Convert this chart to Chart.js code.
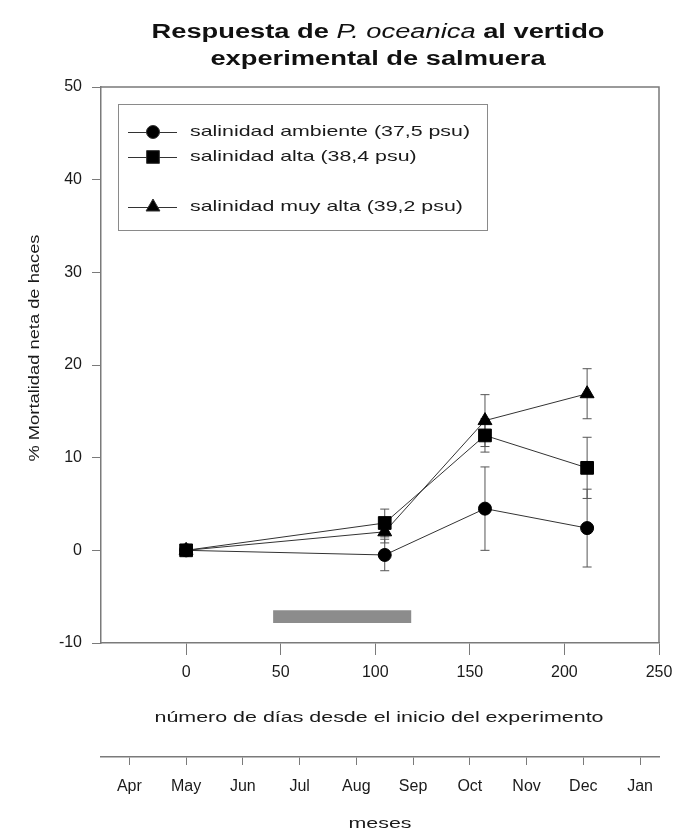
<!DOCTYPE html>
<html><head><meta charset="utf-8">
<script src="https://cdn.jsdelivr.net/npm/chart.js@4"></script>
<style>html,body{margin:0;padding:0;background:#fff}#wrap{width:677px;height:834px;position:relative}</style>
</head><body><div id="wrap"><canvas id="c"></canvas></div>
<script>
// ---- data ----
const days = [0, 105, 158, 212];
const seriesLabels = ['salinidad ambiente (37,5 psu)', 'salinidad alta (38,4 psu)', 'salinidad muy alta (39,2 psu)'];
const ambiente = [0, -0.5, 4.5, 2.4];
const ambienteErr = [0, 1.7, 4.5, 4.2];
const alta = [0, 2.95, 12.4, 8.9];
const altaErr = [0, 1.5, 1.8, 3.3];
const muyAlta = [0, 2.0, 14.0, 16.9];
const muyAltaErr = [0, 1.2, 2.8, 2.7];
const dischargeDays = [46, 119];
const dischargeLevel = -7.15;
const dayTicks = [0, 50, 100, 150, 200, 250];
const yTicks = [-10, 0, 10, 20, 30, 40, 50];
const monthTicks = [-30, 0, 30, 60, 90, 120, 150, 180, 210, 240];
const monthLabels = ['Apr', 'May', 'Jun', 'Jul', 'Aug', 'Sep', 'Oct', 'Nov', 'Dec', 'Jan'];
const titleLine1 = ['Respuesta de ', 'P. oceanica', ' al vertido'];
const titleLine2 = 'experimental de salmuera';
const xTitle = 'número de días desde el inicio del experimento';
const x2Title = 'meses';
const yTitle = '% Mortalidad neta de haces';

const FONT = "'Liberation Sans', Arial, Helvetica, sans-serif";
const AXIS = '#7a7a7a';
const TEXT = '#1a1a1a';

function stretchedText(ctx, text, font, cx, cy, targetW, align) {
  ctx.save();
  ctx.font = font;
  const w = ctx.measureText(text).width;
  const sx = targetW / w;
  ctx.translate(cx, cy);
  ctx.scale(sx, 1);
  ctx.textAlign = align || 'center';
  ctx.fillText(text, 0, 0);
  ctx.restore();
}

const titlePlugin = {
  id: 'figTitle',
  afterDraw(chart) {
    const ctx = chart.ctx;
    const fonts = ['bold 20px ' + FONT, 'italic 20px ' + FONT, 'bold 20px ' + FONT];
    ctx.save();
    ctx.fillStyle = '#111';
    ctx.textBaseline = 'alphabetic';
    const widths = titleLine1.map((t, i) => { ctx.font = fonts[i]; return ctx.measureText(t).width; });
    const w1 = widths.reduce((a, b) => a + b, 0);
    const sx = 453 / w1;
    ctx.translate(378, 0);
    ctx.scale(sx, 1);
    let x = -w1 / 2;
    ctx.textAlign = 'left';
    titleLine1.forEach((t, i) => { ctx.font = fonts[i]; ctx.fillText(t, x, 38); x += widths[i]; });
    ctx.font = fonts[0];
    ctx.textAlign = 'center';
    ctx.fillText(titleLine2, 0, 65);
    ctx.restore();
  }
};

const axisTitlePlugin = {
  id: 'axisTitles',
  afterDraw(chart) {
    const ctx = chart.ctx;
    ctx.save();
    ctx.fillStyle = TEXT;
    ctx.textBaseline = 'middle';
    stretchedText(ctx, xTitle, '15px ' + FONT, 379, 718, 449);
    stretchedText(ctx, x2Title, '15px ' + FONT, 380, 824, 63);
    ctx.save();
    ctx.translate(35, 348);
    ctx.rotate(-Math.PI / 2);
    stretchedText(ctx, yTitle, '15px ' + FONT, 0, 0, 227);
    ctx.restore();
    ctx.restore();
  }
};

const framePlugin = {
  id: 'frame',
  afterDraw(chart) {
    const ctx = chart.ctx, a = chart.chartArea;
    ctx.save();
    ctx.strokeStyle = AXIS;
    ctx.lineWidth = 1.5;
    ctx.beginPath();
    ctx.moveTo(a.left, a.top); ctx.lineTo(a.right, a.top); ctx.lineTo(a.right, a.bottom);
    ctx.stroke();
    ctx.restore();
  }
};

const errorBarPlugin = {
  id: 'errorBars',
  beforeDatasetsDraw(chart) {
    const ctx = chart.ctx;
    const xs = chart.scales.x, ys = chart.scales.y;
    ctx.save();
    ctx.strokeStyle = '#555';
    ctx.lineWidth = 1;
    chart.data.datasets.forEach(ds => {
      if (!ds.errors) return;
      ds.data.forEach((p, i) => {
        const e = ds.errors[i];
        if (!e) return;
        const x = xs.getPixelForValue(p.x);
        const y1 = ys.getPixelForValue(p.y + e);
        const y2 = ys.getPixelForValue(p.y - e);
        ctx.beginPath();
        ctx.moveTo(x, y1); ctx.lineTo(x, y2);
        ctx.moveTo(x - 4.5, y1); ctx.lineTo(x + 4.5, y1);
        ctx.moveTo(x - 4.5, y2); ctx.lineTo(x + 4.5, y2);
        ctx.stroke();
      });
    });
    ctx.restore();
  }
};

const legendPlugin = {
  id: 'boxLegend',
  afterDraw(chart) {
    const ctx = chart.ctx;
    const rows = [132, 157, 207];
    ctx.save();
    ctx.strokeStyle = '#8a8a8a';
    ctx.lineWidth = 1;
    ctx.strokeRect(118.5, 104.5, 369, 126);
    const font = '15px ' + FONT;
    ctx.font = font;
    const sx = 280 / ctx.measureText(seriesLabels[0]).width;
    for (let i = 0; i < 3; i++) {
      const ds = chart.data.datasets[i];
      const y = rows[i];
      ctx.strokeStyle = '#333';
      ctx.beginPath(); ctx.moveTo(128, y + 0.5); ctx.lineTo(177, y + 0.5); ctx.stroke();
      ctx.fillStyle = '#000';
      Chart.helpers.drawPoint(ctx, {pointStyle: ds.pointStyle, radius: ds.pointRadius, rotation: 0, borderWidth: 1}, 153, y);
      ctx.save();
      ctx.fillStyle = TEXT;
      ctx.textBaseline = 'middle';
      ctx.font = font;
      ctx.translate(190, y);
      ctx.scale(sx, 1);
      ctx.textAlign = 'left';
      ctx.fillText(seriesLabels[i], 0, 0);
      ctx.restore();
    }
    ctx.restore();
  }
};

function series(label, vals, errs, style, radius) {
  return {
    label, errors: errs,
    data: days.map((d, i) => ({x: d, y: vals[i]})),
    showLine: true, borderColor: '#333', borderWidth: 1,
    pointStyle: style, pointRadius: radius, pointHoverRadius: radius,
    pointBackgroundColor: '#000', pointBorderColor: '#000', pointBorderWidth: 1
  };
}

new Chart(document.getElementById('c'), {
  type: 'scatter',
  data: {
    datasets: [
      series(seriesLabels[0], ambiente, ambienteErr, 'circle', 6.5),
      series(seriesLabels[1], alta, altaErr, 'rect', 9),
      series(seriesLabels[2], muyAlta, muyAltaErr, 'triangle', 8),
      {
        label: 'vertido',
        data: dischargeDays.map(d => ({x: d, y: dischargeLevel})),
        showLine: true, borderColor: '#8c8c8c', borderWidth: 12.7,
        borderCapStyle: 'butt', pointRadius: 0, pointHoverRadius: 0
      }
    ]
  },
  options: {
    responsive: true, maintainAspectRatio: false, animation: false,
    layout: {padding: {left: 0, right: 18, top: 87, bottom: 0}},
    plugins: {legend: {display: false}, tooltip: {enabled: false}},
    scales: {
      x: {
        type: 'linear', position: 'bottom', weight: 0, min: -45, max: 250,
        afterBuildTicks: s => { s.ticks = dayTicks.map(v => ({value: v})); },
        afterFit: s => { s.height = 114; s.paddingLeft = 0; s.paddingRight = 0; },
        grid: {drawOnChartArea: false, tickLength: 12, color: AXIS, tickWidth: 1},
        border: {color: AXIS, width: 1.5},
        ticks: {font: {family: FONT, size: 16}, color: TEXT, padding: 8, maxRotation: 0, autoSkip: false}
      },
      x2: {
        type: 'linear', axis: 'x', position: 'bottom', weight: 1, min: -45, max: 250,
        afterBuildTicks: s => { s.ticks = monthTicks.map(v => ({value: v})); },
        afterFit: s => { s.height = 77; s.paddingLeft = 0; s.paddingRight = 0; },
        grid: {drawOnChartArea: false, tickLength: 8, color: AXIS, tickWidth: 1},
        border: {color: AXIS, width: 1.5},
        ticks: {font: {family: FONT, size: 16}, color: TEXT, padding: 12, maxRotation: 0, autoSkip: false,
                callback: (v, i) => monthLabels[i]}
      },
      y: {
        type: 'linear', position: 'left', min: -10, max: 50,
        afterBuildTicks: s => { s.ticks = yTicks.map(v => ({value: v})); },
        afterFit: s => { s.width = 101; },
        grid: {drawOnChartArea: false, tickLength: 9, color: AXIS, tickWidth: 1},
        border: {color: AXIS, width: 1.5},
        ticks: {font: {family: FONT, size: 16}, color: TEXT, padding: 10}
      }
    }
  },
  plugins: [errorBarPlugin, framePlugin, titlePlugin, axisTitlePlugin, legendPlugin]
});
</script>
</body></html>
